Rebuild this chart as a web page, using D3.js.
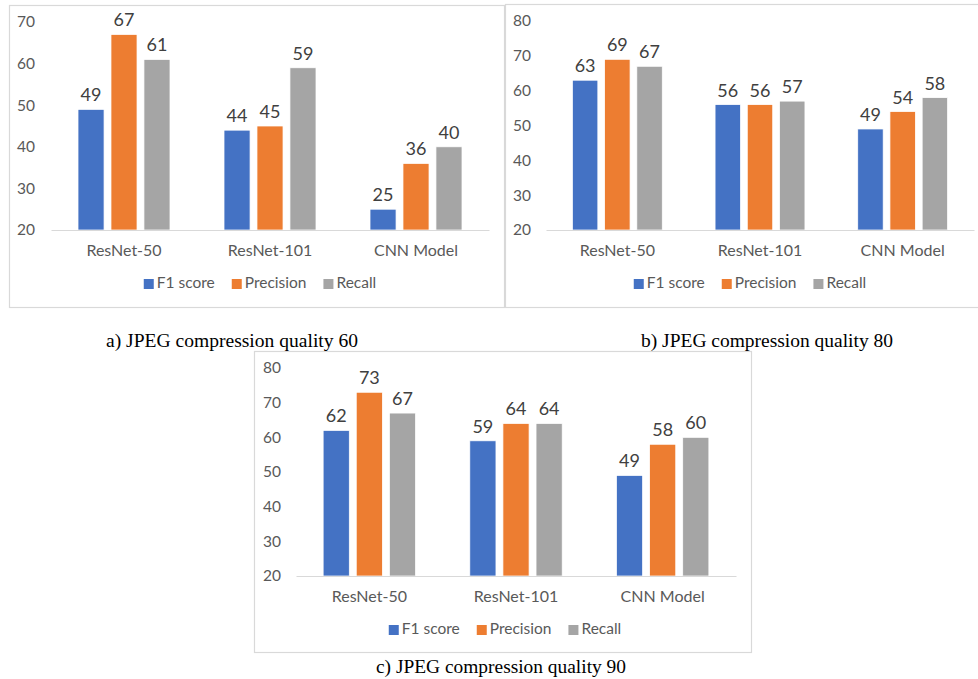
<!DOCTYPE html>
<html>
<head>
<meta charset="utf-8">
<script src="https://cdn.jsdelivr.net/npm/d3@7"></script>
<style>
  html, body { margin: 0; padding: 0; background: #fff; }
  svg { display: block; }
</style>
</head>
<body>
<svg id="fig" width="978" height="679"></svg>
<script>
// Model names on the category axis
const categories = ["ResNet-50", "ResNet-101", "CNN Model"];
// Metric series shown in each group
const seriesNames = ["F1 score", "Precision", "Recall"];
const seriesColors = ["#4472C4", "#ED7D31", "#A5A5A5"];

// JPEG quality 60
const q60F1 = [49, 44, 25];
const q60Precision = [67, 45, 36];
const q60Recall = [61, 59, 40];
const q60Ticks = [20, 30, 40, 50, 60, 70];

// JPEG quality 80
const q80F1 = [63, 56, 49];
const q80Precision = [69, 56, 54];
const q80Recall = [67, 57, 58];
const q80Ticks = [20, 30, 40, 50, 60, 70, 80];

// JPEG quality 90
const q90F1 = [62, 59, 49];
const q90Precision = [73, 64, 58];
const q90Recall = [67, 64, 60];
const q90Ticks = [20, 30, 40, 50, 60, 70, 80];

const captions = [
  "a) JPEG compression quality 60",
  "b) JPEG compression quality 80",
  "c) JPEG compression quality 90"
];

const svg = d3.select("#fig");
const FONT = "Lato, 'Open Sans', sans-serif";

function drawPanel(opt) {
  const g = svg.append("g");

  // chart frame
  g.append("rect")
    .attr("x", opt.frame[0] + 0.5).attr("y", opt.frame[1] + 0.5)
    .attr("width", opt.frame[2]).attr("height", opt.frame[3])
    .attr("fill", "#fff").attr("stroke", "#D9D9D9").attr("stroke-width", 1.2);

  const y = d3.scaleLinear().domain(opt.domain).range([opt.y0, opt.y1]);
  const x0 = d3.scaleBand().domain(categories).range([opt.x0, opt.x1])
    .paddingInner(0.37).paddingOuter(0.185);
  const x1 = d3.scaleBand().domain(seriesNames).range([0, x0.bandwidth()])
    .paddingInner(0.21);

  // value axis labels (no line, no ticks)
  const yAxis = d3.axisLeft(y).tickValues(opt.ticks).tickSize(0).tickPadding(0);
  const ya = g.append("g").attr("transform", `translate(${opt.labelX},0)`).call(yAxis);
  ya.select(".domain").remove();
  ya.selectAll("text")
    .attr("font-family", FONT).attr("font-size", 15.5).attr("fill", "#595959");

  const rows = categories.map((c, i) => ({
    cat: c,
    vals: opt.series.map((s, k) => ({ name: seriesNames[k], v: s[i], color: seriesColors[k] }))
  }));

  const grp = g.selectAll(".grp").data(rows).join("g")
    .attr("transform", d => `translate(${x0(d.cat)},0)`);

  grp.selectAll("rect").data(d => d.vals).join("rect")
    .attr("x", d => x1(d.name))
    .attr("y", d => y(d.v))
    .attr("width", x1.bandwidth())
    .attr("height", d => y(opt.domain[0]) - y(d.v))
    .attr("fill", d => d.color)
    .attr("stroke", "#fff").attr("stroke-width", 0.75);

  grp.selectAll("text.val").data(d => d.vals).join("text")
    .attr("class", "val")
    .attr("x", d => x1(d.name) + x1.bandwidth() / 2)
    .attr("y", d => y(d.v) - 8)
    .attr("text-anchor", "middle")
    .attr("font-family", FONT).attr("font-size", 18).attr("fill", "#404040")
    .text(d => d.v);

  // category axis
  const xAxis = d3.axisBottom(x0).tickSize(0).tickPadding(0);
  const xa = g.append("g").attr("transform", `translate(0,${opt.y0})`).call(xAxis);
  xa.select(".domain").attr("stroke", "#D9D9D9").attr("stroke-width", 1.2);
  xa.selectAll("text")
    .attr("dy", null).attr("y", 22).attr("dominant-baseline", "middle")
    .attr("font-family", FONT).attr("font-size", 16).attr("fill", "#595959");

  // legend
  const lg = g.append("g").attr("transform", `translate(0,${opt.y0 + 54})`);
  const items = lg.selectAll("g").data(seriesNames).join("g");
  items.append("rect").attr("y", -5).attr("width", 10).attr("height", 10)
    .attr("fill", (d, i) => seriesColors[i]);
  items.append("text").attr("x", 13).attr("dominant-baseline", "middle")
    .attr("font-family", FONT).attr("font-size", 15.5).attr("fill", "#595959")
    .text(d => d);
  let cx = 0;
  const offs = [];
  items.each(function () {
    offs.push(cx);
    const w = 13 + this.querySelector("text").getComputedTextLength();
    cx += w + 17;
  });
  const total = cx - 17;
  items.attr("transform", (d, i) => `translate(${opt.legendCenter - total / 2 + offs[i]},0)`);
}

drawPanel({
  frame: [9, 5, 495, 302], domain: [20, 70], y0: 230, y1: 22,
  x0: 51, x1: 489, labelX: 35, ticks: q60Ticks,
  series: [q60F1, q60Precision, q60Recall], legendCenter: 260
});
drawPanel({
  frame: [505, 4, 500, 303], domain: [20, 80], y0: 230, y1: 21,
  x0: 546, x1: 974, labelX: 531, ticks: q80Ticks,
  series: [q80F1, q80Precision, q80Recall], legendCenter: 750
});
drawPanel({
  frame: [254, 351, 497, 301], domain: [20, 80], y0: 576, y1: 368,
  x0: 296, x1: 736, labelX: 281, ticks: q90Ticks,
  series: [q90F1, q90Precision, q90Recall], legendCenter: 505
});

// figure captions
const capPos = [[232, 347], [767, 347], [501, 673]];
svg.selectAll("text.cap").data(captions).join("text")
  .attr("class", "cap")
  .attr("x", (d, i) => capPos[i][0]).attr("y", (d, i) => capPos[i][1])
  .attr("text-anchor", "middle")
  .attr("font-family", "'Liberation Serif', 'Times New Roman', serif")
  .attr("font-size", 18).attr("fill", "#000")
  .attr("textLength", (d, i) => i === 2 ? 250 : 252)
  .attr("lengthAdjust", "spacingAndGlyphs")
  .text(d => d);
</script>
</body>
</html>
